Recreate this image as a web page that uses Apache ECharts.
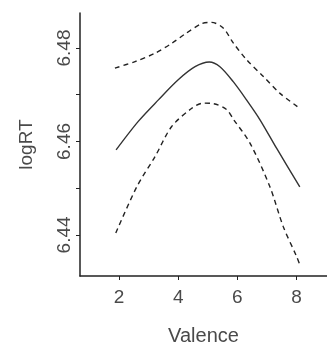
<!DOCTYPE html>
<html>
<head>
<meta charset="utf-8">
<style>
  html, body { margin: 0; padding: 0; background: #fff; }
  #chart { width: 327px; height: 345px; }
</style>
<script src="https://cdn.jsdelivr.net/npm/echarts@6/dist/echarts.min.js"></script>
</head>
<body>
<div id="chart"></div>
<script>
// fitted curve
const fitX = [1.9, 2.65, 3.33, 4.0, 4.57, 5.05, 5.41, 5.86, 6.31, 6.76, 7.33, 8.11];
const fitY = [6.4582, 6.4643, 6.4689, 6.4732, 6.4760, 6.4770, 6.4760, 6.4728, 6.4689, 6.4647, 6.4585, 6.4503];

// upper confidence band
const upperX = [1.86, 2.54, 3.22, 3.78, 4.23, 4.79, 5.13, 5.52, 5.86, 6.31, 6.88, 7.44, 8.11];
const upperY = [6.4757, 6.4771, 6.4789, 6.4810, 6.4830, 6.4852, 6.4855, 6.4843, 6.4811, 6.4775, 6.4739, 6.4703, 6.4671];

// lower confidence band
const lowerX = [1.89, 2.6, 3.22, 3.78, 4.46, 4.85, 5.19, 5.64, 5.86, 6.43, 7.1, 7.55, 8.0, 8.11];
const lowerY = [6.4404, 6.4503, 6.4568, 6.4632, 6.4671, 6.4682, 6.4681, 6.4668, 6.4648, 6.4596, 6.4503, 6.4418, 6.4354, 6.4336];

const xTicks = [2, 4, 6, 8];
const yTicks = [6.44, 6.45, 6.46, 6.47, 6.48];
const yLabels = [6.44, 6.46, 6.48];

const pairs = (xs, ys) => xs.map((x, i) => [x, ys[i]]);

const chart = echarts.init(document.getElementById("chart"));

const textColor = "#4a4a4a";
const font = "Liberation Sans, Arial, sans-serif";

const option = {
  animation: false,
  grid: { left: 80, right: 0, top: 13, bottom: 69, outerBoundsMode: "none", containLabel: false },
  xAxis: {
    type: "value",
    min: 0.68,
    max: 9.03,
    name: "Valence",
    nameLocation: "middle",
    nameGap: 50,
    nameTextStyle: { color: textColor, fontSize: 20, fontFamily: font },
    axisLine: { onZero: false, lineStyle: { color: "#222", width: 1.5 } },
    axisTick: { show: true, length: 4, customValues: xTicks, lineStyle: { color: "#222" } },
    axisLabel: {
      customValues: xTicks,
      color: textColor,
      fontSize: 19,
      fontFamily: font,
      margin: 12,
    },
    splitLine: { show: false },
  },
  yAxis: {
    type: "value",
    min: 6.4312,
    max: 6.4875,
    name: "logRT",
    nameLocation: "middle",
    nameRotate: 90,
    nameGap: 44,
    nameTextStyle: { color: textColor, fontSize: 19, fontFamily: font },
    axisLine: { show: true, onZero: false, lineStyle: { color: "#222", width: 1.5 } },
    axisTick: { show: true, length: 4, customValues: yTicks, lineStyle: { color: "#222" } },
    axisLabel: {
      customValues: yLabels,
      rotate: 90,
      color: textColor,
      fontSize: 19,
      fontFamily: font,
      margin: 6,
      formatter: (v) => v.toFixed(2),
    },
    splitLine: { show: false },
  },
  series: [
    {
      name: "fit",
      type: "line",
      data: pairs(fitX, fitY),
      smooth: 0.3,
      symbol: "none",
      lineStyle: { color: "#333", width: 1.4 },
    },
    {
      name: "upper",
      type: "line",
      data: pairs(upperX, upperY),
      smooth: 0.3,
      symbol: "none",
      lineStyle: { color: "#222", width: 1.4, type: [5, 4] },
    },
    {
      name: "lower",
      type: "line",
      data: pairs(lowerX, lowerY),
      smooth: 0.3,
      symbol: "none",
      lineStyle: { color: "#222", width: 1.4, type: [5, 4] },
    },
  ],
};

chart.setOption(option);
</script>
</body>
</html>
